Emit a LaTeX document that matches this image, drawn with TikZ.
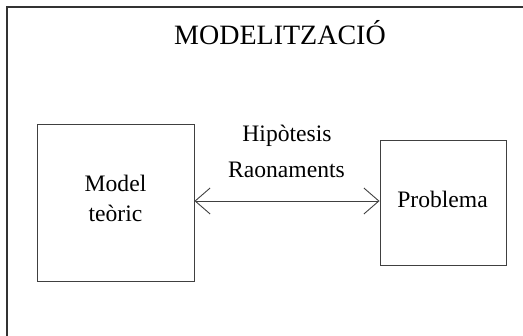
\documentclass[tikz,border=0pt]{standalone}
\usepackage{fontspec}
\setmainfont{Liberation Serif}
\usetikzlibrary{arrows.meta}
\begin{document}
\begin{tikzpicture}[x=1pt,y=-1pt,
  box/.style={draw=black!75,line width=0.9pt,inner sep=0pt},
  lbl/.style={anchor=base,inner sep=0pt,font=\fontsize{23.6}{28}\selectfont},
  link/.style={draw=black!75,line width=0.9pt,>={Straight Barb[length=15pt,width=26pt]},<->}]
\useasboundingbox (0,0) rectangle (523,336);
\clip (0,0) rectangle (523,336);
\draw[line width=1.4pt,black!80] (7,345) -- (7,7) -- (530,7);
\node[anchor=base,inner sep=0pt,font=\fontsize{28}{34}\selectfont] (title) at (280,45) {MODELITZACIÓ};
\node[box,minimum width=157pt,minimum height=157pt] (model) at (115.5,202.5) {};
\node[box,minimum width=126pt,minimum height=125pt] (prob) at (443,202.5) {};
\node[lbl] (m1) at (115.5,192) {Model};
\node[lbl] (m2) at (115.5,222) {teòric};
\node[lbl] (p1) at (442.5,208) {Problema};
\node[lbl] (h1) at (287,142) {Hipòtesis};
\node[lbl] (r1) at (286.5,178) {Raonaments};
\draw[link] ([yshift=1.5pt]model.east) -- ([yshift=1.5pt]prob.west);
\end{tikzpicture}
\end{document}
